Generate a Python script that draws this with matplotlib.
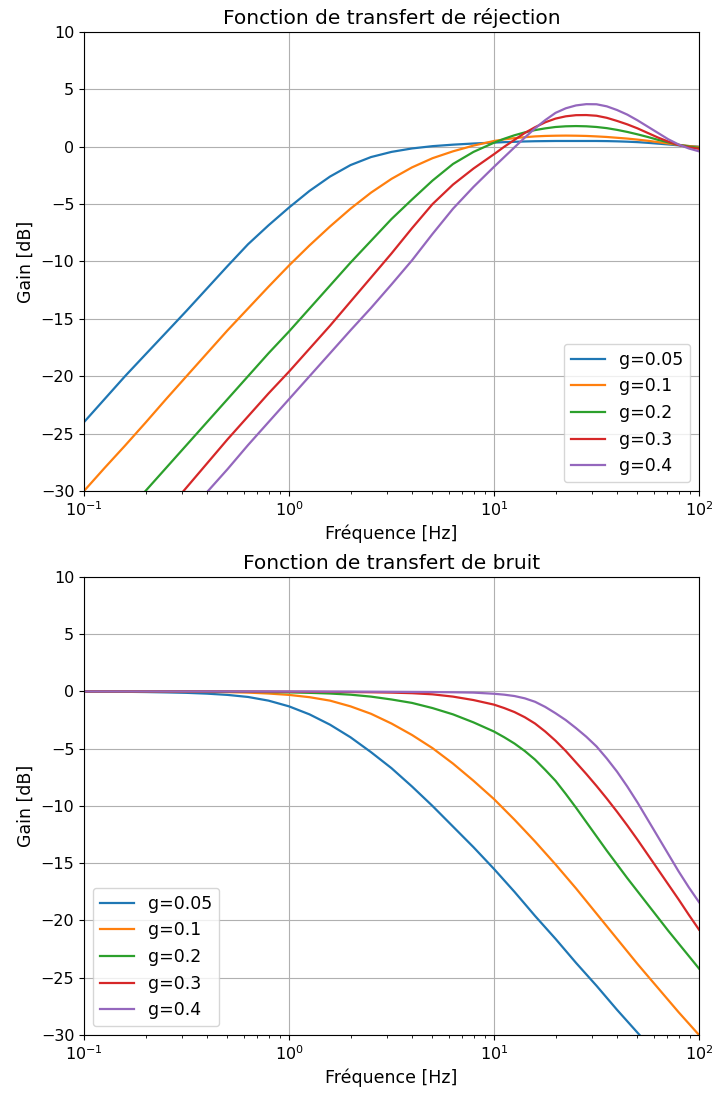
import numpy as np
import matplotlib
matplotlib.use("Agg")
from matplotlib import pyplot as plt

# frequences [Hz] : pas de 0.1 decade jusqu'a 10 Hz, puis 0.05 decade
freq = [0.1, 0.1259, 0.1585, 0.1995, 0.2512, 0.3162, 0.3981, 0.5012, 0.6310, 0.7943,
        1.0, 1.259, 1.585, 1.995, 2.512, 3.162, 3.981, 5.012, 6.310, 7.943,
        10.0, 11.22, 12.59, 14.13, 15.85, 17.78, 19.95, 22.39, 25.12, 28.18,
        31.62, 35.48, 39.81, 44.67, 50.12, 56.23, 63.10, 70.79, 79.43, 89.13,
        100.0]

gains = ["g=0.05", "g=0.1", "g=0.2", "g=0.3", "g=0.4"]

# fonction de transfert de rejection [dB]
rej_005 = [-24.0, -22.0, -20.0, -18.1, -16.2, -14.3, -12.35, -10.4, -8.5, -6.85,
           -5.3, -3.85, -2.6, -1.6, -0.9, -0.45, -0.15, 0.05, 0.18, 0.28,
           0.36, 0.4, 0.43, 0.46, 0.48, 0.49, 0.5, 0.5, 0.5, 0.5,
           0.5, 0.49, 0.47, 0.44, 0.4, 0.34, 0.27, 0.2, 0.12, 0.06,
           0.0]
rej_01 = [-30.0, -28.0, -26.05, -24.05, -22.0, -20.0, -18.0, -16.0, -14.1, -12.2,
          -10.35, -8.6, -6.95, -5.4, -4.0, -2.8, -1.8, -1.0, -0.4, 0.1,
          0.5, 0.64, 0.75, 0.83, 0.9, 0.94, 0.96, 0.97, 0.96, 0.94,
          0.9, 0.85, 0.78, 0.71, 0.62, 0.52, 0.4, 0.28, 0.16, 0.06,
          -0.03]
rej_02 = [-36.0, -34.0, -32.0, -30.0, -28.0, -26.0, -24.0, -22.0, -20.0, -18.0,
          -16.1, -14.1, -12.1, -10.1, -8.2, -6.3, -4.6, -2.95, -1.5, -0.45,
          0.35, 0.7, 1.0, 1.25, 1.45, 1.6, 1.72, 1.78, 1.8, 1.78,
          1.72, 1.62, 1.47, 1.29, 1.08, 0.85, 0.6, 0.38, 0.17, 0.02,
          -0.1]
rej_03 = [-40.0, -38.0, -36.0, -34.0, -31.8, -29.7, -27.6, -25.5, -23.5, -21.5,
          -19.6, -17.6, -15.6, -13.5, -11.4, -9.3, -7.1, -5.0, -3.3, -1.9,
          -0.65, 0.0, 0.6, 1.2, 1.7, 2.13, 2.45, 2.65, 2.75, 2.76,
          2.7, 2.52, 2.25, 1.95, 1.6, 1.2, 0.8, 0.45, 0.15, -0.05,
          -0.18]
rej_04 = [-42.1, -40.1, -38.1, -36.1, -34.1, -32.1, -30.1, -28.1, -26.0, -24.0,
          -22.0, -20.0, -18.0, -16.0, -14.05, -12.0, -9.9, -7.6, -5.4, -3.5,
          -1.75, -0.9, -0.05, 0.8, 1.6, 2.32, 2.95, 3.35, 3.6, 3.71,
          3.7, 3.52, 3.2, 2.8, 2.3, 1.75, 1.2, 0.65, 0.2, -0.15,
          -0.4]

# fonction de transfert de bruit [dB]
ntf_005 = [-0.01, -0.02, -0.03, -0.05, -0.08, -0.12, -0.19, -0.3, -0.48, -0.8,
           -1.3, -2.0, -2.9, -4.0, -5.3, -6.7, -8.3, -10.0, -11.8, -13.6,
           -15.5, -16.5, -17.5, -18.55, -19.6, -20.6, -21.6, -22.65, -23.7, -24.7,
           -25.7, -26.75, -27.8, -28.8, -29.8, -30.8, -31.8, -32.8, -33.8, -34.8,
           -35.8]
ntf_01 = [0.0, 0.0, 0.0, -0.01, -0.01, -0.02, -0.04, -0.06, -0.1, -0.18,
          -0.3, -0.5, -0.8, -1.3, -1.95, -2.8, -3.8, -4.95, -6.3, -7.8,
          -9.4, -10.3, -11.2, -12.15, -13.1, -14.1, -15.1, -16.15, -17.2, -18.3,
          -19.4, -20.5, -21.6, -22.7, -23.8, -24.85, -25.9, -26.95, -28.0, -29.0,
          -30.0]
ntf_02 = [0.0, 0.0, 0.0, 0.0, 0.0, 0.0, -0.01, -0.02, -0.03, -0.05,
          -0.08, -0.12, -0.18, -0.28, -0.45, -0.7, -1.0, -1.45, -2.0, -2.7,
          -3.5, -4.0, -4.55, -5.2, -5.95, -6.85, -7.8, -8.95, -10.15, -11.4,
          -12.65, -13.9, -15.1, -16.3, -17.45, -18.6, -19.75, -20.9, -22.0, -23.1,
          -24.2]
ntf_03 = [0.0, 0.0, 0.0, 0.0, 0.0, 0.0, 0.0, 0.0, -0.01, -0.01,
          -0.02, -0.03, -0.04, -0.05, -0.07, -0.1, -0.15, -0.25, -0.45, -0.75,
          -1.15, -1.45, -1.8, -2.25, -2.8, -3.5, -4.3, -5.2, -6.2, -7.2,
          -8.25, -9.35, -10.5, -11.7, -12.95, -14.25, -15.55, -16.85, -18.15, -19.5,
          -20.8]
ntf_04 = [0.0, 0.0, 0.0, 0.0, 0.0, 0.0, 0.0, 0.0, 0.0, 0.0,
          0.0, 0.0, -0.01, -0.01, -0.02, -0.03, -0.04, -0.05, -0.07, -0.1,
          -0.2, -0.28, -0.4, -0.6, -0.9, -1.35, -1.9, -2.5, -3.2, -3.95,
          -4.8, -5.85, -7.0, -8.3, -9.7, -11.2, -12.7, -14.2, -15.7, -17.1,
          -18.4]

rej = [rej_005, rej_01, rej_02, rej_03, rej_04]
ntf = [ntf_005, ntf_01, ntf_02, ntf_03, ntf_04]

fig = plt.figure(figsize=(7.13, 10.95), dpi=100)
ax1 = fig.add_axes([0.1178, 0.5516, 0.8626, 0.4192])
ax2 = fig.add_axes([0.1178, 0.0548, 0.8626, 0.4183])

for ax, data, titre, loc in [(ax1, rej, "Fonction de transfert de réjection", "lower right"),
                             (ax2, ntf, "Fonction de transfert de bruit", "lower left")]:
    for g, d in zip(gains, data):
        ax.semilogx(freq, d, label=g, lw=1.6)
    ax.set_xlim(0.1, 100)
    ax.set_ylim(-30, 10)
    ax.grid(True, which="major")
    ax.set_title(titre, fontsize=14.5)
    ax.set_xlabel("Fréquence [Hz]", fontsize=12.5)
    ax.set_ylabel("Gain [dB]", fontsize=12.5)
    ax.tick_params(labelsize=11.5)
    ax.legend(loc=loc, fontsize=12.5)

fig.savefig("out.png", dpi=100)
